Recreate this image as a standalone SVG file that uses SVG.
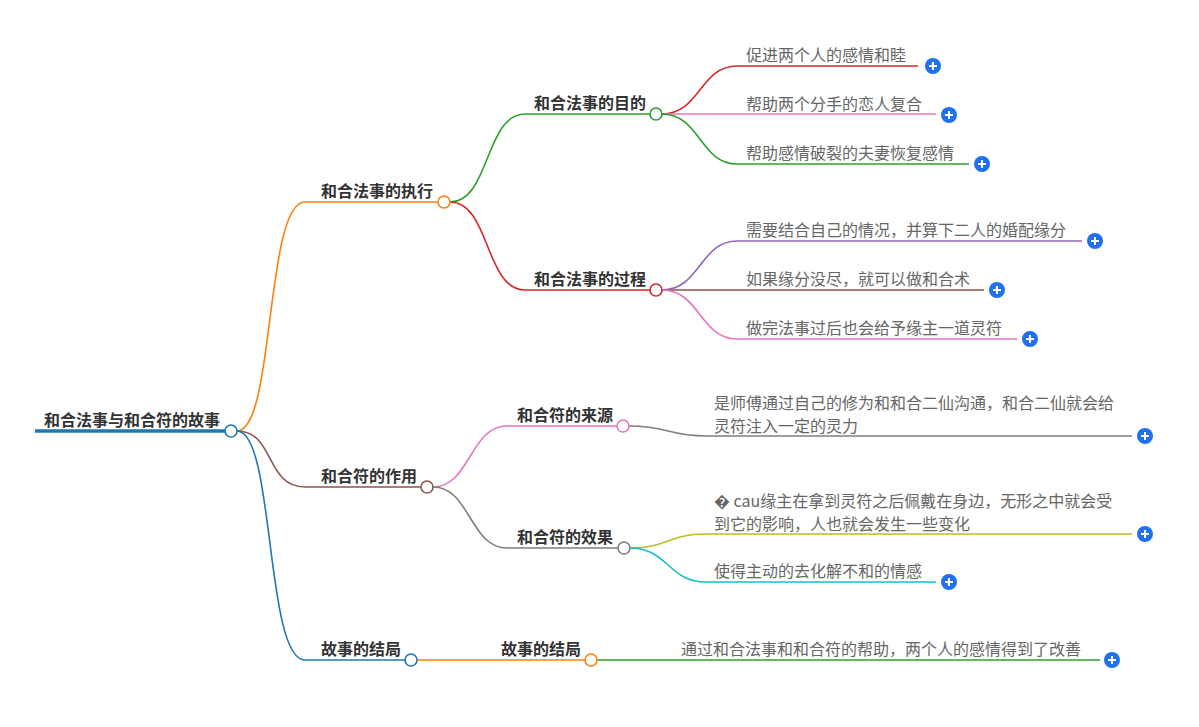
<svg xmlns="http://www.w3.org/2000/svg" width="1199" height="727" viewBox="0 0 1199 727">
<style>
text{font-family:"Noto Sans CJK SC","Noto Sans",sans-serif;font-size:16px}
.b{font-weight:bold;fill:#333}
.t{fill:#666}
.c{fill:none;stroke-width:1.6}
.n{fill:#fff;stroke-width:1.6}
.plus circle{fill:#2170f0}
.plus path{stroke:#fff;stroke-width:2;fill:none}
</style>
<defs>
<g id="pl" class="plus"><circle r="8"/><path d="M-4,0H4M0,-4V4"/></g>
</defs>
<rect width="1199" height="727" fill="#fff"/>
<g id="connectors">
<path class="c" stroke="#ff7f0e" d="M237,431C275,431 265,202 305,202H438"/>
<path class="c" stroke="#8c564b" d="M237,431C275,431 265,487 305,487H421"/>
<path class="c" stroke="#1f77b4" d="M237,431C275,431 265,660 305,660H405"/>
<path class="c" stroke="#2ca02c" d="M450,202C490,202 485,114 525,114H650"/>
<path class="c" stroke="#d62728" d="M450,202C490,202 485,290 525,290H650"/>
<path class="c" stroke="#e377c2" d="M433,487C470,487 470,426 507,426H617"/>
<path class="c" stroke="#7f7f7f" d="M433,487C470,487 470,548 507,548H618"/>
<path class="c" stroke="#ff7f0e" d="M417,660H585"/>
<path class="c" stroke="#d62728" d="M662,114C700,114 700,66 737,66H918"/>
<path class="c" stroke="#e377c2" d="M662,114H936"/>
<path class="c" stroke="#2ca02c" d="M662,114C700,114 700,164 737,164H969"/>
<path class="c" stroke="#9467bd" d="M662,290C700,290 700,241 737,241H1082"/>
<path class="c" stroke="#8c564b" d="M662,290H984"/>
<path class="c" stroke="#e377c2" d="M662,290C700,290 700,339 737,339H1017"/>
<path class="c" stroke="#7f7f7f" d="M629,426C668,426 668,436 706,436H1132"/>
<path class="c" stroke="#bcbd22" d="M630,548C668,548 668,534 706,534H1132"/>
<path class="c" stroke="#17becf" d="M630,548C668,548 668,582 706,582H936"/>
<path class="c" stroke="#2ca02c" d="M597,660H1100"/>
</g>
<g id="root">
<path d="M35,431H225" stroke="#1f77b4" stroke-width="3.5"/>
<text class="b" x="44" y="426">和合法事与和合符的故事</text>
<circle class="n" cx="231" cy="431" r="6" stroke="#1f77b4"/>
</g>
<g id="n-exec"><text class="b" x="321" y="197">和合法事的执行</text><circle class="n" cx="444" cy="202" r="6" stroke="#ff7f0e"/></g>
<g id="n-use"><text class="b" x="321" y="482">和合符的作用</text><circle class="n" cx="427" cy="487" r="6" stroke="#8c564b"/></g>
<g id="n-end"><text class="b" x="321" y="655">故事的结局</text><circle class="n" cx="411" cy="660" r="6" stroke="#1f77b4"/></g>
<g id="n-goal"><text class="b" x="534" y="109">和合法事的目的</text><circle class="n" cx="656" cy="114" r="6" stroke="#2ca02c"/></g>
<g id="n-proc"><text class="b" x="534" y="285">和合法事的过程</text><circle class="n" cx="656" cy="290" r="6" stroke="#d62728"/></g>
<g id="n-src"><text class="b" x="517" y="421">和合符的来源</text><circle class="n" cx="623" cy="426" r="6" stroke="#e377c2"/></g>
<g id="n-eff"><text class="b" x="517" y="543">和合符的效果</text><circle class="n" cx="624" cy="548" r="6" stroke="#7f7f7f"/></g>
<g id="n-end2"><text class="b" x="501" y="655">故事的结局</text><circle class="n" cx="591" cy="660" r="6" stroke="#ff7f0e"/></g>
<g id="l1"><text class="t" x="746" y="61">促进两个人的感情和睦</text><use href="#pl" x="933" y="66"/></g>
<g id="l2"><text class="t" x="746" y="110">帮助两个分手的恋人复合</text><use href="#pl" x="949" y="115"/></g>
<g id="l3"><text class="t" x="746" y="159">帮助感情破裂的夫妻恢复感情</text><use href="#pl" x="982" y="164"/></g>
<g id="l4"><text class="t" x="746" y="236">需要结合自己的情况，并算下二人的婚配缘分</text><use href="#pl" x="1095" y="241"/></g>
<g id="l5"><text class="t" x="746" y="285">如果缘分没尽，就可以做和合术</text><use href="#pl" x="997" y="290"/></g>
<g id="l6"><text class="t" x="746" y="334">做完法事过后也会给予缘主一道灵符</text><use href="#pl" x="1030" y="339"/></g>
<g id="l7"><text class="t" x="714" y="409">是师傅通过自己的修为和和合二仙沟通，和合二仙就会给<tspan x="714" dy="23">灵符注入一定的灵力</tspan></text><use href="#pl" x="1145" y="436"/></g>
<g id="l8"><text class="t" x="714" y="507">� cau缘主在拿到灵符之后佩戴在身边，无形之中就会受<tspan x="714" dy="23">到它的影响，人也就会发生一些变化</tspan></text><use href="#pl" x="1145" y="534"/></g>
<g id="l9"><text class="t" x="714" y="577">使得主动的去化解不和的情感</text><use href="#pl" x="949" y="582"/></g>
<g id="l10"><text class="t" x="681" y="655">通过和合法事和和合符的帮助，两个人的感情得到了改善</text><use href="#pl" x="1112" y="660"/></g>
</svg>
